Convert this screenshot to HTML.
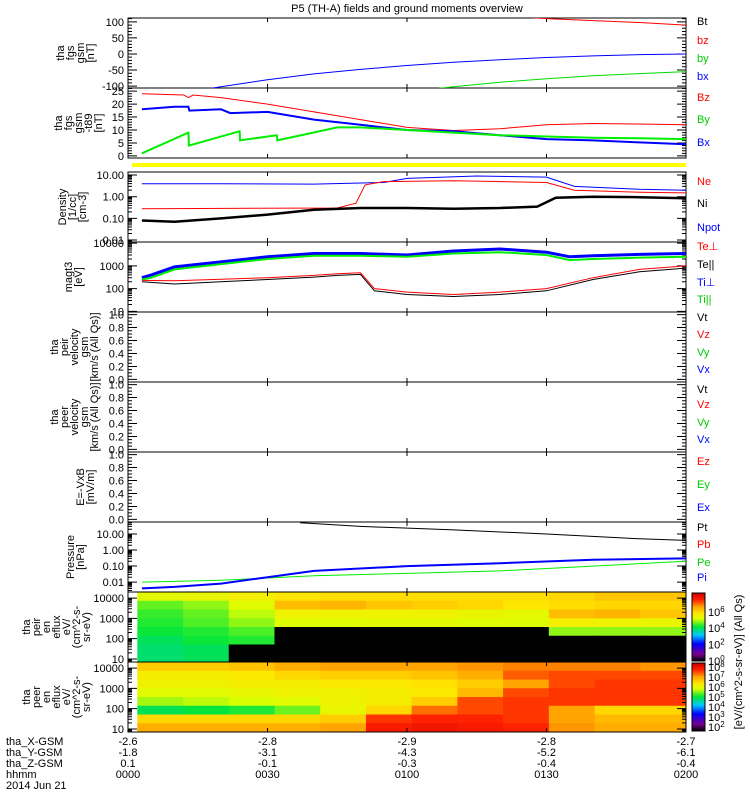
<!DOCTYPE html>
<html><head><meta charset="utf-8"><style>
body{margin:0;background:#fff}
svg{display:block;font-family:"Liberation Sans",sans-serif}
text{font-size:11px}
</style></head><body>
<svg id="c" width="750" height="800" viewBox="0 0 750 800"></svg>
<script>
// ---- data ----
const tickTimes=[0,30,60,90,120];
const xLabels=["-2.6","-2.8","-2.9","-2.8","-2.7"];
const yLabels=["-1.8","-3.1","-4.3","-5.2","-6.1"];
const zLabels=["0.1","-0.1","-0.3","-0.4","-0.4"];
const hhmm=["0000","0030","0100","0130","0200"];
// panel 1 fgs gsm
const p1T=[0,10,20,30,40,50,60,70,80,90,100,110,120];
const p1Bx=[-140,-125,-102,-80,-62,-48,-36,-26,-18,-11,-6,-2,0];
const p1By=[-250,-230,-210,-190,-170,-140,-118,-102,-88,-77,-68,-61,-55];
const p1Bz=[200,190,180,170,160,150,140,130,120,110,104,98,90];
// panel 2 fgs gsm-t89
const p2BzT=[3,12,13,14,20,30,40,50,60,70,80,90,100,110,120];
const p2Bz=[24,23.5,22.5,23.5,22.5,20,17,14,11,9.8,10.5,12,12.5,12.3,12];
const p2BxT=[3,10,13,13.2,20,22,30,40,50,60,70,80,90,100,110,120];
const p2Bx=[18,19,19,17.5,18,16.5,17,14,12,10,9.5,8,6.5,6,5.2,4.5];
const p2ByT=[3,13,13.1,24,24.1,32,32.1,45,50,60,70,80,90,100,110,120];
const p2By=[1,9,4,9.5,6,8,6,11,11,10,9,8,7.5,7,6.8,6.5];
// panel 3 density
const p3NpotT=[3,20,40,55,60,75,90,96,110,120];
const p3Npot=[4,4,3.8,4.5,7,9,8,3,2.2,2];
const p3NeT=[3,45,49,51,55,70,90,96,110,120];
const p3Ne=[0.28,0.3,0.5,3.5,5,5.5,4.5,2,1.6,1.5];
const p3NiT=[3,10,20,30,40,50,60,70,80,88,92,100,110,120];
const p3Ni=[0.08,0.07,0.1,0.15,0.25,0.3,0.3,0.28,0.3,0.35,0.9,1.0,0.95,0.85];
// panel 4 temperature
const p4T=[3,5,10,20,30,40,50,60,70,80,90,95,100,110,120];
const p4TiPerp=[300,400,900,1500,2500,3500,3500,3000,4500,5500,4000,2500,2800,3200,3500];
const p4TiPar=[250,300,700,1200,2000,2800,2800,2500,3500,4000,3000,1800,2000,2300,2500];
const p4TeT=[3,10,20,30,40,45,50,53,60,70,80,90,100,110,120];
const p4TePerp=[230,220,260,300,380,450,500,100,70,55,70,100,300,700,1000];
const p4TePar=[200,160,200,250,320,380,420,80,55,45,55,80,250,550,800];
// panel 8 pressure
const p8PtT=[37,50,70,90,110,120];
const p8Pt=[50,30,18,10,5,4];
const p8T=[3,10,20,30,40,60,80,100,120];
const p8Pi=[0.004,0.005,0.008,0.02,0.05,0.1,0.15,0.25,0.3];
const p8Pe=[0.01,0.011,0.013,0.018,0.025,0.035,0.05,0.1,0.2];
// spectrograms: log10 flux, rows top(high E) -> bottom(low E), 12 time bins; null = no data (black)
const ionSpec=[
[5.3,5.4,5.6,5.8,5.9,5.9,5.9,5.9,5.9,6.0,6.2,6.2],
[4.6,4.8,5.2,6.3,6.4,6.2,6.1,6.0,5.8,5.9,6.0,6.0],
[4.4,4.6,5.0,5.5,5.5,5.5,5.5,5.4,5.3,6.3,6.4,6.2],
[4.3,4.5,4.8,5.2,5.2,5.3,5.3,5.2,5.2,5.6,5.5,5.4],
[4.2,4.3,4.5,null,null,null,null,null,null,4.8,4.8,4.8],
[4.0,4.2,4.3,null,null,null,null,null,null,null,null,null],
[3.9,4.0,null,null,null,null,null,null,null,null,null,null],
[3.9,4.0,null,null,null,null,null,null,null,null,null,null]];
const eleSpec=[
[6.6,6.6,6.7,6.9,7.0,7.0,7.0,7.1,7.2,7.2,7.2,7.1],
[6.2,6.2,6.3,6.5,6.6,6.6,6.7,6.9,7.4,7.5,7.5,7.5],
[6.1,6.1,6.2,6.2,6.3,6.3,6.4,6.6,7.0,7.5,7.6,7.6],
[5.9,5.9,6.0,6.1,6.1,6.2,6.3,6.8,7.5,7.6,7.6,7.6],
[5.6,5.7,5.8,5.9,6.1,6.2,6.6,7.5,7.6,7.6,7.6,7.6],
[4.9,5.0,5.1,5.4,6.0,6.5,7.3,7.5,7.6,7.0,6.5,6.5],
[6.5,6.5,6.5,6.5,6.6,7.6,7.7,7.7,7.6,7.0,6.8,6.8],
[6.9,6.9,6.9,6.9,7.0,7.8,7.9,7.8,7.7,7.1,6.9,6.9]];

// ---- drawing ----
const svg=document.getElementById('c');
const NS='http://www.w3.org/2000/svg';
const X0=128,X1=686;
function xs(t){return X0+t/120*(X1-X0);}
function mk(tag,at,parent){const e=document.createElementNS(NS,tag);for(const k in at)e.setAttribute(k,at[k]);(parent||svg).appendChild(e);return e;}
function txt(s,x,y,at,parent){const e=mk('text',Object.assign({x:x,y:y},at||{}),parent);e.textContent=s;return e;}

const panels=[
 {id:'fgs',y0:18,y1:88,type:'lin',min:-106,max:112,major:[-100,-50,0,50,100],lab:['-100','-50','0','50','100'],minor:10,title:['tha','fgs','gsm','[nT]'],lx:64},
 {id:'fgs-t89',y0:88,y1:158,type:'lin',min:-0.8,max:26.2,major:[0,5,10,15,20,25],lab:['0','5','10','15','20','25'],minor:1,title:['tha','fgs','gsm','-t89','[nT]'],lx:62},
 {id:'density',y0:172,y1:242,type:'log',min:-2.09,max:1.14,major:[-2,-1,0,1],lab:['0.01','0.10','1.00','10.00'],title:['Density','[1/cc]','[cm-3]'],lx:66},
 {id:'temperature',y0:242,y1:312,type:'log',min:0.97,max:4.05,major:[1,2,3,4],lab:['10','100','1000','10000'],title:['magt3','[eV]'],lx:72},
 {id:'peir-velocity',y0:312,y1:382,type:'lin',min:-0.04,max:1.04,major:[0,0.2,0.4,0.6,0.8,1],lab:['0.0','0.2','0.4','0.6','0.8','1.0'],minor:0.05,title:['tha','peir','velocity','gsm','[km/s (All Qs)]'],lx:58},
 {id:'peer-velocity',y0:382,y1:452,type:'lin',min:-0.04,max:1.04,major:[0,0.2,0.4,0.6,0.8,1],lab:['0.0','0.2','0.4','0.6','0.8','1.0'],minor:0.05,title:['tha','peer','velocity','gsm','[km/s (All Qs)]'],lx:58},
 {id:'efield',y0:452,y1:522,type:'lin',min:-0.04,max:1.04,major:[0,0.2,0.4,0.6,0.8,1],lab:['0.0','0.2','0.4','0.6','0.8','1.0'],minor:0.05,title:['E=-VxB','[mV/m]'],lx:84},
 {id:'pressure',y0:522,y1:592,type:'log',min:-2.62,max:1.75,major:[-2,-1,0,1],lab:['0.01','0.10','1.00','10.00'],title:['Pressure','[nPa]'],lx:74},
 {id:'ion-spec',y0:592,y1:662,type:'log',min:0.85,max:4.3,major:[1,2,3,4],lab:['10','100','1000','10000'],title:['tha','peir','en','eflux','eV/','(cm^2-s-','sr-eV)'],lx:30},
 {id:'ele-spec',y0:662,y1:732,type:'log',min:0.85,max:4.3,major:[1,2,3,4],lab:['10','100','1000','10000'],title:['tha','peer','en','eflux','eV/','(cm^2-s-','sr-eV)'],lx:30}
];
function ysc(p,v){let u=p.type=='log'?Math.log10(v):v;return p.y1-(u-p.min)/(p.max-p.min)*(p.y1-p.y0);}
function yu(p,u){return p.y1-(u-p.min)/(p.max-p.min)*(p.y1-p.y0);}

const stops=[[0,0,0,0],[0.1,120,0,140],[0.25,0,0,255],[0.38,0,200,255],[0.5,0,230,60],[0.62,220,255,0],[0.7,255,230,0],[0.8,255,160,0],[0.9,255,30,0],[1,200,0,0]];
function cmap(f){f=Math.max(0,Math.min(1,f));for(let i=1;i<stops.length;i++){if(f<=stops[i][0]){const a=stops[i-1],b=stops[i],r=(f-a[0])/(b[0]-a[0]);return 'rgb('+[1,2,3].map(k=>Math.round(a[k]+(b[k]-a[k])*r)).join(',')+')';}}return 'rgb(200,0,0)';}

function spec(p,grid,cmin,cmax,name){
 const g=mk('g',{'clip-path':'url(#clip-'+p.id+')'});
 
 
 const nr=grid.length,nc=grid[0].length,t0=2,dt=(120-t0)/nc;
 for(let r=0;r<nr;r++)for(let c=0;c<nc;c++){
  const v=grid[r][c];
  const y0=p.y0+r*(p.y1-p.y0)/nr, h=(p.y1-p.y0)/nr;
  const x0=xs(t0+c*dt), w=xs(t0+(c+1)*dt)-x0;
  const cell=mk('rect',{x:x0,y:y0,width:w+0.5,height:h+0.5,fill:v===null?'#000':cmap((v-cmin)/(cmax-cmin))},g);
  
  
 }
}

const defs=mk('defs',{});
panels.forEach(p=>{const cp=mk('clipPath',{id:'clip-'+p.id},defs);mk('rect',{x:X0,y:p.y0,width:X1-X0,height:p.y1-p.y0},cp);});

spec(panels[8],ionSpec,0,8.3,'ion-spectrogram');
spec(panels[9],eleSpec,1.6,8.4,'electron-spectrogram');

const yb=mk('rect',{x:132,y:163,width:554,height:4,fill:'#ffff00'});



panels.forEach(p=>{
 const fr=mk('rect',{x:X0,y:p.y0,width:X1-X0,height:p.y1-p.y0,fill:'none',stroke:'#000','stroke-width':1});
 
 
 let d='';
 if(p.type=='lin'){
  for(let v=Math.ceil(p.min/p.minor)*p.minor;v<=p.max;v+=p.minor){const y=yu(p,v);d+=`M${X0},${y}h4M${X1},${y}h-4`;}
 } else {
  for(let e=Math.floor(p.min);e<=p.max;e++)for(let m=1;m<10;m++){const u=e+Math.log10(m);if(u<p.min||u>p.max)continue;const y=yu(p,u);d+=`M${X0},${y}h4M${X1},${y}h-4`;}
 }
 p.major.forEach(v=>{const y=yu(p,v);d+=`M${X0},${y}h9M${X1},${y}h-9`;});
 tickTimes.forEach(t=>{const x=xs(t);d+=`M${x},${p.y1}v-4M${x},${p.y0}v4`;});
 mk('path',{d:d,stroke:'#000','stroke-width':1,fill:'none'});
 p.major.forEach((v,i)=>{const y=yu(p,v);const tl=txt(p.lab[i],124,y+4,{'text-anchor':'end'});});
 const cy=(p.y0+p.y1)/2;
 const tt=mk('text',{transform:`translate(${p.lx},${cy}) rotate(-90)`,'text-anchor':'middle'});
 
 
 p.title.forEach((s,i)=>{const ts=mk('tspan',{x:0,dy:i==0?0:10},tt);ts.textContent=s;});
});

function line(pi,T,V,color,name,w){
 const p=panels[pi];
 const pts=T.map((t,i)=>xs(t).toFixed(1)+','+ysc(p,V[i]).toFixed(1)).join(' ');
 const l=mk('polyline',{points:pts,fill:'none',stroke:color,'stroke-width':w||1,'clip-path':'url(#clip-'+p.id+')'});
 
 
}
line(0,p1T,p1Bz,'#ff0000','bz-line');
line(0,p1T,p1By,'#00dd00','by-line');
line(0,p1T,p1Bx,'#0000ff','bx-line');
line(1,p2BzT,p2Bz,'#ff0000','Bz-t89-line');
line(1,p2BxT,p2Bx,'#0000ff','Bx-t89-line',2);
line(1,p2ByT,p2By,'#00ee00','By-t89-line',2);
line(2,p3NpotT,p3Npot,'#0000ff','npot-line');
line(2,p3NeT,p3Ne,'#ff0000','ne-line');
line(2,p3NiT,p3Ni,'#000000','ni-line',2.5);
line(3,p4T,p4TiPerp,'#0000ff','ti-perp-line',3);
line(3,p4T,p4TiPar,'#00ee00','ti-par-line',2);
line(3,p4TeT,p4TePerp,'#ff0000','te-perp-line');
line(3,p4TeT,p4TePar,'#000000','te-par-line');
line(7,p8PtT,p8Pt,'#000000','pt-line');
line(7,p8T,p8Pe,'#00ee00','pe-line');
line(7,p8T,p8Pi,'#0000ff','pi-line',2);

const legend=[['Bt',25,'#000'],['bz',44,'#f00'],['by',62,'#0c0'],['bx',80,'#00f'],
['Bz',101,'#f00'],['By',123,'#0c0'],['Bx',146,'#00f'],
['Ne',185,'#f00'],['Ni',207,'#000'],['Npot',231,'#00f'],
['Te⊥',250,'#f00'],['Te||',268,'#000'],['Ti⊥',286,'#00f'],['Ti||',303,'#0c0'],
['Vt',321,'#000'],['Vz',338,'#f00'],['Vy',356,'#0c0'],['Vx',373,'#00f'],
['Vt',393,'#000'],['Vz',408,'#f00'],['Vy',426,'#0c0'],['Vx',443,'#00f'],
['Ez',465,'#f00'],['Ey',488,'#0c0'],['Ex',511,'#00f'],
['Pt',531,'#000'],['Pb',548,'#f00'],['Pe',566,'#0c0'],['Pi',581,'#00f']];
legend.forEach(l=>{const e=txt(l[0],697,l[1],{fill:l[2]});});

function cbar(y0,y1,cmin,cmax,labs,name){
 const g=mk('g',{});
 
 
 const n=60;
 for(let i=0;i<n;i++){const f=i/n;mk('rect',{x:692,y:y1-(i+1)*(y1-y0)/n,width:13,height:(y1-y0)/n+0.5,fill:cmap(f)},g);}
 mk('rect',{x:692,y:y0,width:13,height:y1-y0,fill:'none',stroke:'#000'},g);
 labs.forEach(e=>{const y=y1-(e-cmin)/(cmax-cmin)*(y1-y0);const t=txt('10',708,y+4,{},g);const s=mk('tspan',{dy:-4,'font-size':'8'},t);s.textContent=String(e);});
}
cbar(593,661,0,8.3,[0,2,4,6],'ion-colorbar');
cbar(663,731,1.6,8.4,[2,3,4,5,6,7,8],'electron-colorbar');
const cu=mk('text',{transform:'translate(742,662) rotate(-90)','text-anchor':'middle'});
cu.textContent='[eV/(cm^2-s-sr-eV)] (All Qs)';



const ti=txt('P5 (TH-A) fields and ground moments overview',407,12,{'text-anchor':'middle','font-size':'12'});



const rows=[['tha_X-GSM',xLabels,745],['tha_Y-GSM',yLabels,756],['tha_Z-GSM',zLabels,767],['hhmm',hhmm,778]];
rows.forEach(r=>{
 const h=txt(r[0],6,r[2]);
 r[1].forEach((s,i)=>{const e=txt(s,xs(tickTimes[i]),r[2],{'text-anchor':'middle'});});
});
const dt=txt('2014 Jun 21',6,789);


</script>
</body></html>
